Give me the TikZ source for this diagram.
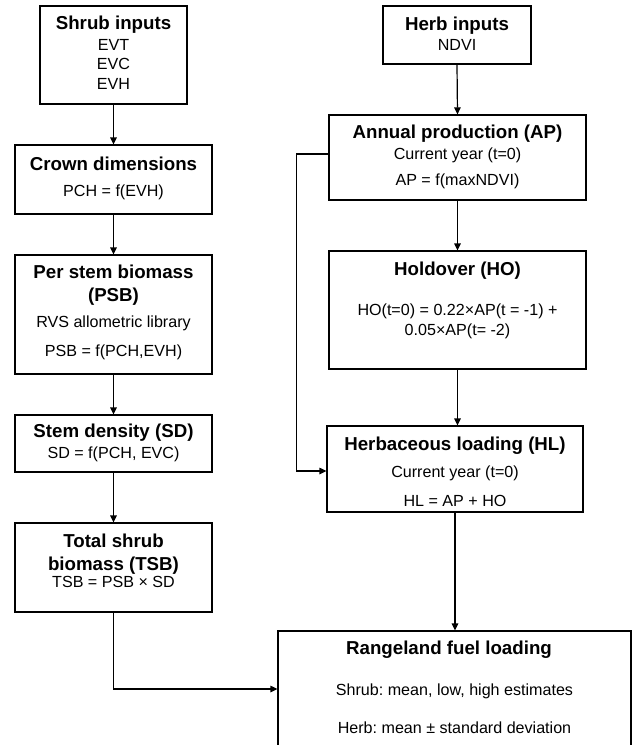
\documentclass[tikz,border=0pt]{standalone}
\usepackage{fontspec}
\setmainfont{Liberation Sans}
\usetikzlibrary{arrows.meta,calc}
\frenchspacing
\begin{document}
\begin{tikzpicture}[x=1pt,y=-1pt,
  box/.style={draw, line width=1.2pt, inner sep=0pt},
  ttl/.style={anchor=base, inner sep=0pt, font=\fontsize{18.7}{21}\selectfont\bfseries},
  txt/.style={anchor=base, inner sep=0pt, font=\fontsize{16.1}{19}\selectfont},
  conn/.style={line width=1.2pt, -{Triangle[length=7pt,width=6.5pt]}}]
\useasboundingbox (0,0) rectangle (632,745);
\clip (0,0) rectangle (632,745);
% boxes
\node[box, minimum width=147, minimum height=98] (shrubin) at (113.5,55) {};
\node[box, minimum width=197, minimum height=69] (crown) at (113.5,179.5) {};
\node[box, minimum width=197, minimum height=119] (psb) at (113.5,314.5) {};
\node[box, minimum width=197, minimum height=57] (sd) at (113.5,443.5) {};
\node[box, minimum width=197, minimum height=89] (tsb) at (113.5,567.5) {};
\node[box, minimum width=148, minimum height=58] (herbin) at (457,35) {};
\node[box, minimum width=257, minimum height=85] (ap) at (457.5,157.5) {};
\node[box, minimum width=257, minimum height=118] (ho) at (457.5,310) {};
\node[box, minimum width=256, minimum height=86] (hl) at (455,469) {};
\node[box, minimum width=353, minimum height=116] (range) at (454.5,689) {};
% texts
\node[ttl] (t1) at (113.5,29.5) {Shrub inputs};
\node[txt] (t2) at (113.5,50) {EVT};
\node[txt] (t3) at (113.5,69.5) {EVC};
\node[txt] (t4) at (113.5,89) {EVH};
\node[ttl] (t5) at (113.5,170) {Crown dimensions};
\node[txt] (t6) at (113.5,196) {PCH = f(EVH)};
\node[ttl] (t7) at (113.5,278) {Per stem biomass};
\node[ttl] (t8) at (113.5,301) {(PSB)};
\node[txt] (t9) at (113.5,327) {RVS allometric library};
\node[txt] (t10) at (113.5,356) {PSB = f(PCH,EVH)};
\node[ttl] (t11) at (113.5,437) {Stem density (SD)};
\node[txt] (t12) at (113.5,458) {SD = f(PCH, EVC)};
\node[ttl] (t13) at (113.5,547) {Total shrub};
\node[ttl] (t14) at (113.5,570) {biomass (TSB)};
\node[txt] (t15) at (113.5,587) {TSB = PSB × SD};
\node[ttl] (t16) at (457,30) {Herb inputs};
\node[txt] (t17) at (457,50) {NDVI};
\node[ttl] (t18) at (457.5,138) {Annual production (AP)};
\node[txt] (t19) at (457.5,159) {Current year (t=0)};
\node[txt] (t20) at (457.5,185) {AP = f(maxNDVI)};
\node[ttl] (t21) at (457.5,275) {Holdover (HO)};
\node[txt] (t22) at (457.5,315) {HO(t=0) = 0.22×AP(t = -1) +};
\node[txt] (t23) at (457.5,335) {0.05×AP(t= -2)};
\node[ttl] (t24) at (455,450) {Herbaceous loading (HL)};
\node[txt] (t25) at (455,477) {Current year (t=0)};
\node[txt] (t26) at (455,506) {HL = AP + HO};
\node[ttl] (t27) at (449,654) {Rangeland fuel loading};
\node[txt] (t28) at (454.5,695) {Shrub: mean, low, high estimates};
\node[txt] (t29) at (454.5,733) {Herb: mean ± standard deviation};
% connectors
\draw[conn] (shrubin.south) -- (crown.north);
\draw[conn] (crown.south) -- (psb.north);
\draw[conn] (psb.south) -- (sd.north);
\draw[conn] (sd.south) -- (tsb.north);
\draw[conn] (tsb.south) |- (range.west);
\draw[conn] (herbin.south) -- (ap.north);
\draw[conn] (ap.south) -- (ho.north);
\draw[conn] (ho.south) -- (ho.south |- hl.north);
\draw[conn] (hl.south) -- (hl.south |- range.north);
\draw[conn] ([yshift=3.5pt]ap.west) -- ++(-32,0) |- ([yshift=-2pt]hl.west);
\end{tikzpicture}
\end{document}
